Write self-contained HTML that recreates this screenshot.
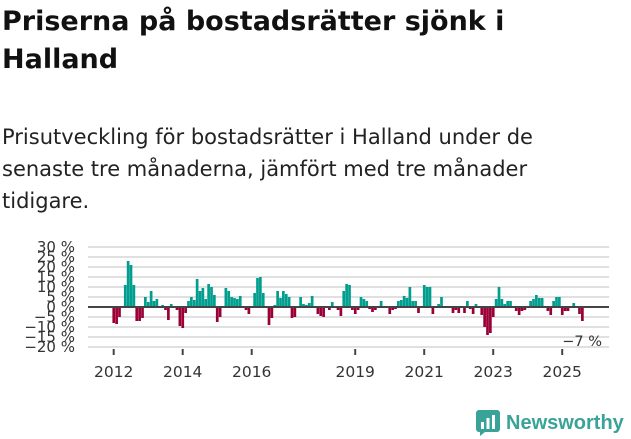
<!DOCTYPE html>
<html><head><meta charset="utf-8"><style>
body{margin:0;width:631px;height:439px;background:#fff;font-family:"DejaVu Sans","Liberation Sans",sans-serif;color:#111;overflow:hidden;position:relative}
h1{position:absolute;left:2px;top:3px;margin:0;font-size:27px;line-height:38px;font-weight:bold;white-space:nowrap}
p{position:absolute;left:2px;top:121px;margin:0;font-size:21px;line-height:32px;color:#222;white-space:nowrap}
svg{position:absolute;left:0;top:0}
</style></head><body>
<h1>Priserna på bostadsrätter sjönk i<br>Halland</h1>
<p>Prisutveckling för bostadsrätter i Halland under de<br>senaste tre månaderna, jämfört med tre månader<br>tidigare.</p>
<svg id="chart" width="631" height="439"></svg>
<script>
const startYear=2012;
const values=[-8,-8.5,-5,0,11,23,21,11,-7,-7,-5.5,5,2.5,8,3,4,-0.5,1,-1.5,-6.5,1.5,0,-1.5,-9.5,-10.5,-3,3,5,3.5,14,8,9.5,4,11.5,10,6,-7.5,-5,0.5,9.5,8,5,4.5,4,5.5,0,-1.5,-3.5,0,7,14.5,15,7,-0.5,-9,-5.5,1,8,4.5,8,6.5,5,-5.5,-5,0,5,1.5,1,2,5.5,0,-3.5,-4.5,-5,0,-1.5,2.5,0,-1.5,-4.5,8,11.5,11,-1.5,-3.5,-1.5,5,4,3,-1,-2.5,-1.5,-0.5,3,0,0.5,-3.5,-1.5,-1,3,3.5,5.5,4.5,10,3,3,-3,-0.5,11,10,10,-3.5,0.5,1.5,5,0.5,0.5,0.5,-3,-1.5,-3,-0.5,-3,3,-1,-3.5,1.5,-0.5,-4,-10,-14,-13,-5,4,10,4,1.5,3,3,-0.5,-2,-4,-2,-1.5,0,3,4,6,4.5,4.5,0.5,-2,-4,3,5,5,-4,-2,-2,0.5,2,0.5,-3.5,-7];
const yTicks=[30,25,20,15,10,5,0,-5,-10,-15,-20];
const xTickYears=[2012,2014,2016,2019,2021,2023,2025];
const lastLabel="−7 %";
const NS="http://www.w3.org/2000/svg";
const svg=document.getElementById('chart');
const x0=113.7,mw=2.875,y0=307,py=2;
const xs=m=>x0+m*mw, ys=v=>y0-v*py;
function mk(t,a){const e=document.createElementNS(NS,t);for(const k in a)e.setAttribute(k,a[k]);svg.appendChild(e);return e;}
yTicks.forEach(t=>{
 if(t!==0){const g=mk('line',{x1:88,x2:609,y1:ys(t),y2:ys(t),stroke:'#e0e0e0','stroke-width':2});
 
 }
 const l=mk('text',{x:75,y:ys(t)+5,'text-anchor':'end','font-size':15,fill:'#333'});
 l.textContent=(t<0?'−'+(-t):t)+' %';
 
 
});
values.forEach((v,i)=>{
 const r=mk('rect',{x:xs(i)-1.3,width:2.7,y:Math.min(ys(v),y0),height:Math.abs(v*py),fill:v>=0?'#009e8e':'#9a0036'});
 
 
});
const z=mk('line',{x1:88,x2:609,y1:y0,y2:y0,stroke:'#444','stroke-width':2});


xTickYears.forEach(yr=>{
 const x=xs((yr-startYear)*12);
 const t=mk('line',{x1:x,x2:x,y1:349,y2:355,stroke:'#444','stroke-width':2});
 
 
 const l=mk('text',{x:x,y:377,'text-anchor':'middle','font-size':15.5,fill:'#333'});
 l.textContent=yr;
 
 
});
const ll=mk('text',{x:602,y:346,'text-anchor':'end','font-size':14.5,fill:'#333'});
ll.textContent=lastLabel;


</script>
<div style="position:absolute;left:476px;top:410px;display:flex;align-items:center;font-family:'Liberation Sans',sans-serif">
<svg width="24" height="26" style="position:static" viewBox="0 0 24 26"><rect x="0" y="0" width="24" height="22" rx="3" fill="#3aa397"/><path d="M4 22 L4 26 L9 22Z" fill="#3aa397"/><rect x="5" y="12" width="3" height="7" fill="#fff"/><rect x="10.5" y="8" width="3" height="11" fill="#fff"/><rect x="16" y="5" width="3" height="14" fill="#fff"/></svg>
<span style="font-size:20px;font-weight:bold;color:#3aa397;margin-left:6px">Newsworthy</span></div>
</body></html>
